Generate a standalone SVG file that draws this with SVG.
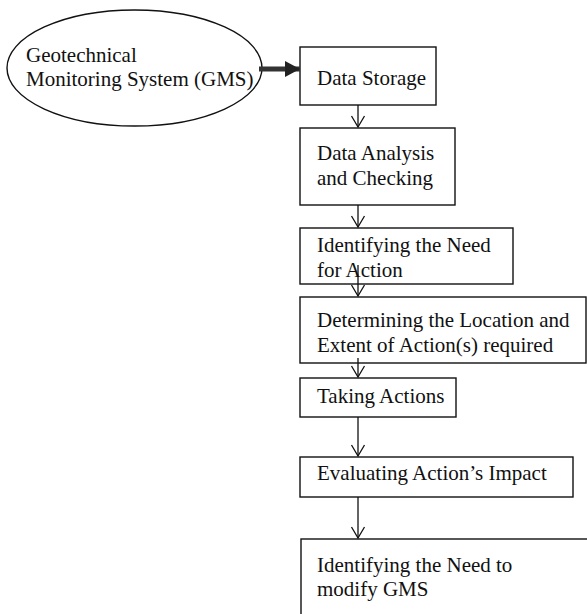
<svg xmlns="http://www.w3.org/2000/svg" width="587" height="614" viewBox="0 0 587 614">
<style>
.box{fill:#fff;stroke:#111;stroke-width:1.4}
.t{font-family:"Liberation Serif","Times New Roman",serif;font-size:21px;fill:#111}
.c{stroke:#111;stroke-width:1.3;fill:none}
</style>
<defs>
<marker id="v" markerUnits="userSpaceOnUse" markerWidth="14" markerHeight="16" viewBox="-12 -8 14 16" refX="0" refY="0" orient="auto">
<path d="M-11,-6.5 L0,0 L-11,6.5" fill="none" stroke="#111" stroke-width="1.3"/>
</marker>
<marker id="big" markerUnits="userSpaceOnUse" markerWidth="16" markerHeight="18" viewBox="0 -9 16 18" refX="15" refY="0" orient="auto">
<path d="M0,-8 L15,0 L0,8 Z" fill="#222"/>
</marker>
</defs>
<rect width="587" height="614" fill="#fff"/>
<g id="gms">
<ellipse cx="134.5" cy="68" rx="127.5" ry="58" fill="#fff" stroke="#111" stroke-width="1.4"/>
<text class="t" x="26" y="62">Geotechnical</text>
<text class="t" x="26" y="86">Monitoring System (GMS)</text>
</g>
<g id="storage">
<rect class="box" x="300" y="47" width="136" height="58"/>
<text class="t" x="317" y="85">Data Storage</text>
</g>
<g id="analysis">
<rect class="box" x="300" y="128" width="155" height="77"/>
<text class="t" x="317" y="160">Data Analysis</text>
<text class="t" x="317" y="185">and Checking</text>
</g>
<g id="need">
<rect class="box" x="300" y="228" width="213" height="56"/>
<text class="t" x="317" y="252">Identifying the Need</text>
<text class="t" x="317" y="277">for Action</text>
</g>
<g id="location">
<rect class="box" x="300" y="297" width="286" height="66"/>
<text class="t" x="317" y="327">Determining the Location and</text>
<text class="t" x="317" y="352">Extent of Action(s) required</text>
</g>
<g id="taking">
<rect class="box" x="300" y="378" width="156" height="39"/>
<text class="t" x="317" y="403">Taking Actions</text>
</g>
<g id="evaluating">
<rect class="box" x="300" y="457" width="273" height="40"/>
<text class="t" x="317" y="480">Evaluating Action’s Impact</text>
</g>
<g id="modify">
<rect class="box" x="301" y="539" width="300" height="90"/>
<text class="t" x="317" y="572">Identifying the Need to</text>
<text class="t" x="317" y="596">modify GMS</text>
</g>
<g id="connectors">
<line x1="259" y1="69" x2="300" y2="69" stroke="#333" stroke-width="5" marker-end="url(#big)"/>
<line class="c" x1="358" y1="105" x2="358" y2="127" marker-end="url(#v)"/>
<line class="c" x1="358" y1="205" x2="358" y2="227" marker-end="url(#v)"/>
<line class="c" x1="358" y1="265" x2="358" y2="296" marker-end="url(#v)"/>
<line class="c" x1="358" y1="358" x2="358" y2="377" marker-end="url(#v)"/>
<line class="c" x1="358" y1="417" x2="358" y2="456" marker-end="url(#v)"/>
<line class="c" x1="358" y1="497" x2="358" y2="538" marker-end="url(#v)"/>
</g>
</svg>
